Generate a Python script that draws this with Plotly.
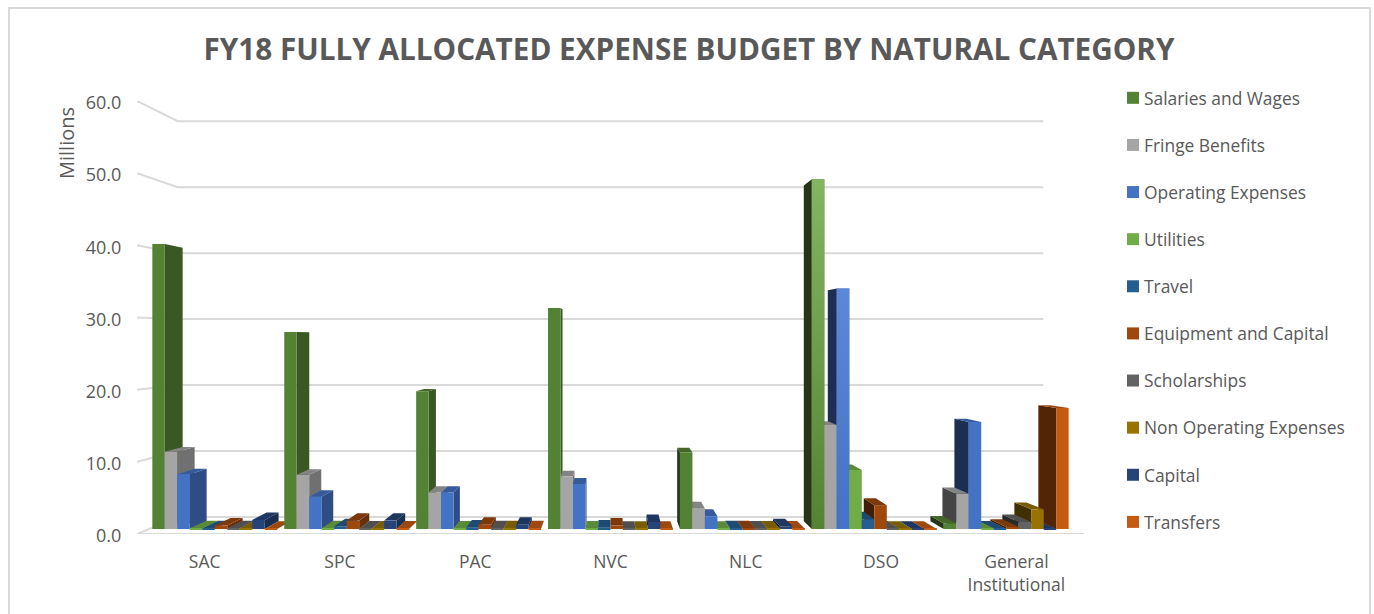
import plotly.graph_objects as go

categories = ["SAC", "SPC", "PAC", "NVC", "NLC", "DSO", "General<br>Institutional"]
series_names = ["Salaries and Wages", "Fringe Benefits", "Operating Expenses", "Utilities", "Travel",
                "Equipment and Capital", "Scholarships", "Non Operating Expenses", "Capital", "Transfers"]
salaries = [40.5, 28.0, 19.6, 31.4, 10.9, 49.7, 0.8]
fringe = [11.0, 7.7, 5.2, 7.5, 2.9, 14.8, 5.0]
operating = [7.8, 4.6, 5.2, 6.4, 1.8, 34.2, 15.2]
utilities = [0.1, 0.1, 0.05, 0.05, 0.02, 8.4, 0.1]
travel = [0.1, 0.4, 0.2, 0.2, 0.1, 1.4, 0.05]
equipment = [0.5, 1.2, 0.6, 0.5, 0.1, 3.4, 0.3]
scholarships = [0.1, 0.05, 0.1, 0.02, 0.05, 0.05, 1.0]
non_operating = [0.1, 0.05, 0.1, 0.02, 0.05, 0.02, 2.8]
capital = [1.3, 1.2, 0.6, 1.0, 0.4, 0.02, 0.05]
transfers = [0.02, 0.05, 0.1, 0.03, 0.05, 0.02, 17.2]
all_values = [salaries, fringe, operating, utilities, travel, equipment, scholarships, non_operating, capital, transfers]
colors = ["#548235", "#a5a5a5", "#4472c4", "#70ad47", "#255e91", "#9e480e", "#636363", "#997300", "#264478", "#c55a11"]
y_ticks = [0, 10, 20, 30, 40, 50, 60]
# the two tall DSO bars fade to a lighter colour at the top: (series, category, top colour)
highlights = [(0, 5, "#84b563"), (2, 5, "#5c88d8")]

W, H = 1374, 614
L, R, T, B = 137, 1084, 101, 534       # front wall of the 3D box, in page pixels
CAM_X = 3.0                            # vanishing point in axis units
CAM_Y = (B - 336) / ((B - T) / 60)
S_WALL = 0.914                         # perspective scale of the back wall
S_FRONT, S_BACK = 0.975, 0.936         # perspective scale of bar front and back
GROUP_W = 0.947                        # share of a category taken by the bars
N = len(series_names)


def project(x, v, s):
    return CAM_X + (x - CAM_X) * s, CAM_Y + (v - CAM_Y) * s


def shade(hex_color, f):
    r, g, b = (int(hex_color[i:i + 2], 16) for i in (1, 3, 5))
    return f"rgb({int(r * f)},{int(g * f)},{int(b * f)})"


def face(pts, color):
    return go.Scatter(x=[p[0] for p in pts], y=[p[1] for p in pts], mode="lines", fill="toself",
                      fillcolor=color, line=dict(width=0), hoverinfo="skip", showlegend=False,
                      xaxis="x", yaxis="y")


fig = go.Figure()

# walls and floor
GRID = "#d9d9d9"
for t in y_ticks[1:]:
    a = project(-0.5, t, 1)
    b = project(-0.5, t, S_WALL)
    c = project(6.5, t, S_WALL)
    fig.add_trace(go.Scatter(x=[a[0], b[0], c[0]], y=[a[1], b[1], c[1]], mode="lines",
                             line=dict(color=GRID, width=2), hoverinfo="skip", showlegend=False))
a, b, c, d = project(6.5, 0, 1), project(-0.5, 0, 1), project(-0.5, 0, S_WALL), project(6.5, 0, S_WALL)
fig.add_trace(go.Scatter(x=[a[0], b[0], c[0], d[0]], y=[a[1], b[1], c[1], d[1]], mode="lines",
                         line=dict(color=GRID, width=2), hoverinfo="skip", showlegend=False))

# side and top faces, painted from the outside towards the vanishing point
faces = []
for j, vals in enumerate(all_values):
    for i, v in enumerate(vals):
        x0 = i - GROUP_W / 2 + j * GROUP_W / N
        x1 = x0 + GROUP_W / N
        centre = (x0 + x1) / 2
        faces.append((abs(centre - CAM_X), x0, x1, v, colors[j]))
for _, x0, x1, v, col in sorted(faces, key=lambda f: -f[0]):
    if x1 < CAM_X:
        pts = [project(x1, 0, S_FRONT), project(x1, v, S_FRONT), project(x1, v, S_BACK), project(x1, 0, S_BACK)]
        fig.add_trace(face(pts, shade(col, 0.68)))
    elif x0 > CAM_X:
        pts = [project(x0, 0, S_FRONT), project(x0, v, S_FRONT), project(x0, v, S_BACK), project(x0, 0, S_BACK)]
        fig.add_trace(face(pts, shade(col, 0.42)))
    if v < CAM_Y:
        pts = [project(x0, v, S_FRONT), project(x1, v, S_FRONT), project(x1, v, S_BACK), project(x0, v, S_BACK)]
        fig.add_trace(face(pts, shade(col, 0.8)))

# front faces: real bars on an overlaid pair of axes scaled to the bars' depth
for j, vals in enumerate(all_values):
    fig.add_trace(go.Bar(x=categories, y=vals, name=series_names[j], marker=dict(color=colors[j], line=dict(width=0)),
                         legendgroup=series_names[j], xaxis="x2", yaxis="y2"))

# gradient sheen over the two tall DSO bars, on a numeric copy of the bar axes
for j, i, top in highlights:
    x0 = i - GROUP_W / 2 + j * GROUP_W / N
    x1 = x0 + GROUP_W / N
    v = all_values[j][i]
    fig.add_trace(go.Scatter(x=[x0, x1, x1, x0], y=[0, 0, v, v], mode="lines", fill="toself", line=dict(width=0),
                             fillgradient=dict(type="vertical", colorscale=[[0, colors[j]], [1, top]]),
                             hoverinfo="skip", showlegend=False, xaxis="x3", yaxis="y3"))

FONT = "Open Sans"
TXT = "#595959"
px = lambda x: (x - L) / (R - L)
py = lambda y: (B - y) / (B - T)
X_BAR_RANGE = [CAM_X - 3.5 / S_FRONT, CAM_X + 3.5 / S_FRONT]
Y_BAR_RANGE = [CAM_Y - CAM_Y / S_FRONT, CAM_Y + (60 - CAM_Y) / S_FRONT]

fig.update_layout(
    width=W, height=H, autosize=False,
    margin=dict(l=L, r=W - R, t=T, b=H - B, pad=0),
    paper_bgcolor="white", plot_bgcolor="rgba(0,0,0,0)",
    font=dict(family=FONT, color=TXT, size=16),
    barmode="group", bargap=1 - GROUP_W, bargroupgap=0,
    title=dict(text="<b>FY18 FULLY ALLOCATED EXPENSE BUDGET BY NATURAL CATEGORY</b>",
               x=689 / W, xanchor="center", y=1 - 50 / H, yanchor="middle",
               font=dict(family=FONT, size=29.7, color=TXT)),
    xaxis=dict(range=[-0.5, 6.5], tickmode="array", tickvals=list(range(len(categories))), ticktext=categories,
               showgrid=False, zeroline=False, showline=False, ticks="outside", ticklen=12,
               tickcolor="rgba(0,0,0,0)", tickfont=dict(size=17.5, color=TXT)),
    yaxis=dict(range=[0, 60], tickmode="array", tickvals=y_ticks, ticktext=[f"{t:.1f}" for t in y_ticks],
               showgrid=False, zeroline=False, showline=False, ticks="outside", ticklen=11, ticklabelshift=2,
               tickcolor="rgba(0,0,0,0)", tickfont=dict(size=18, color=TXT)),
    xaxis2=dict(type="category", overlaying="x", anchor="y2", visible=False,
                categoryorder="array", categoryarray=categories, range=X_BAR_RANGE),
    yaxis2=dict(overlaying="y", anchor="x2", visible=False, range=Y_BAR_RANGE),
    xaxis3=dict(overlaying="x", anchor="y3", visible=False, range=X_BAR_RANGE),
    yaxis3=dict(overlaying="y", anchor="x3", visible=False, range=Y_BAR_RANGE),
    legend=dict(x=px(1104), xanchor="left", y=py(80), yanchor="top", tracegroupgap=21.5, maxheight=570,
                bgcolor="rgba(0,0,0,0)", font=dict(size=17.4, color=TXT), traceorder="grouped"),
    annotations=[dict(text="Millions", textangle=-90, xref="paper", yref="paper", x=px(66), y=py(143),
                      xanchor="center", yanchor="middle", showarrow=False, font=dict(size=20, color=TXT))],
    shapes=[dict(type="rect", xref="paper", yref="paper", x0=px(9), x1=px(1370), y0=py(8), y1=py(640),
                 line=dict(color="#d9d9d9", width=2), fillcolor="rgba(0,0,0,0)", layer="below")],
    hovermode=False,
)

post = """
document.body.style.margin='0';
document.querySelectorAll('.legendsymbols').forEach(function(e){e.setAttribute('transform','translate(9,0)');});
"""
fig.write_html("out.html", post_script=post, config=dict(displayModeBar=False))
